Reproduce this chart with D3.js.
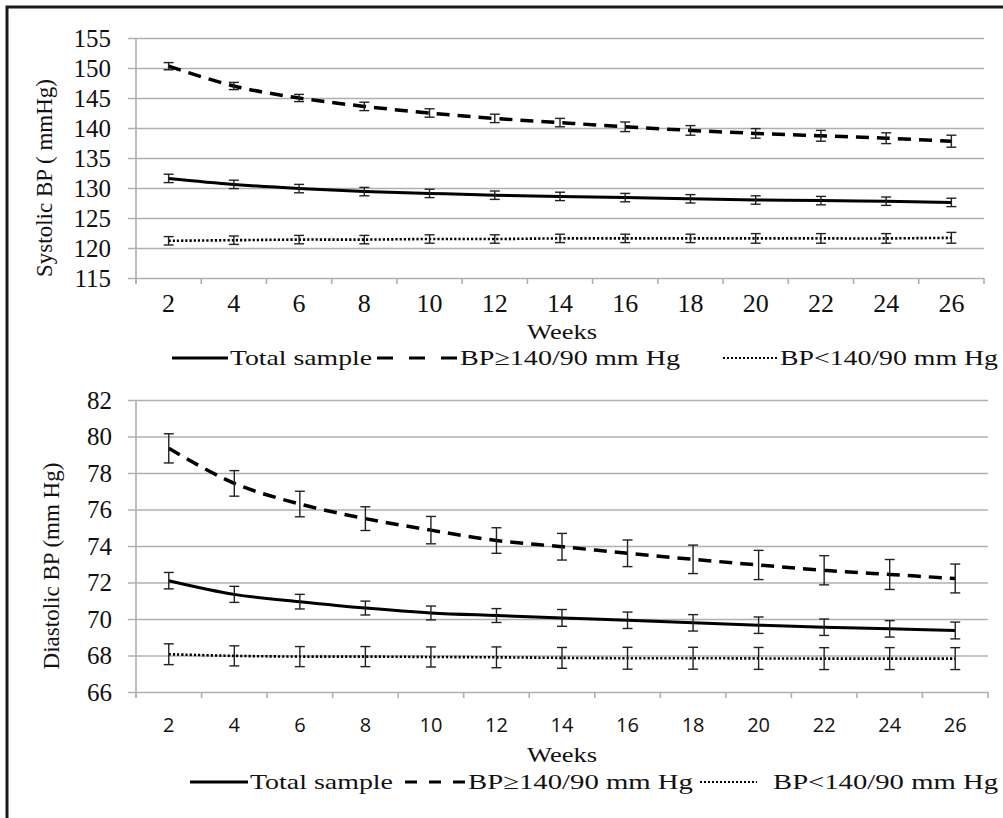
<!DOCTYPE html>
<html>
<head>
<meta charset="utf-8">
<script src="https://cdn.jsdelivr.net/npm/d3@7"></script>
<style>
  body { margin: 0; background: #fff; }
  svg { display: block; }
  text { fill: #111; }
</style>
</head>
<body>
<svg id="chart" width="1003" height="818"></svg>
<script>
// ---- data ----
const weeks = [2, 4, 6, 8, 10, 12, 14, 16, 18, 20, 22, 24, 26];

const sysTotal = [131.6, 130.6, 129.9, 129.4, 129.1, 128.8, 128.6, 128.4, 128.2, 128.0, 127.9, 127.8, 127.6];
const sysTotalErr = [0.7, 0.7, 0.7, 0.7, 0.7, 0.7, 0.7, 0.7, 0.7, 0.7, 0.7, 0.7, 0.7];
const sysHigh = [150.3, 147.0, 145.0, 143.6, 142.5, 141.6, 140.9, 140.2, 139.6, 139.1, 138.7, 138.3, 137.8];
const sysHighErr = [0.6, 0.6, 0.6, 0.7, 0.7, 0.7, 0.7, 0.8, 0.8, 0.8, 0.9, 0.9, 1.0];
const sysLow = [121.2, 121.3, 121.4, 121.4, 121.5, 121.5, 121.6, 121.6, 121.6, 121.6, 121.6, 121.6, 121.7];
const sysLowErr = [0.7, 0.7, 0.7, 0.7, 0.7, 0.7, 0.7, 0.7, 0.7, 0.8, 0.8, 0.8, 0.9];

const diaTotal = [72.1, 71.35, 70.95, 70.6, 70.33, 70.19, 70.06, 69.93, 69.79, 69.66, 69.55, 69.46, 69.37];
const diaTotalErr = [0.45, 0.44, 0.4, 0.38, 0.38, 0.38, 0.46, 0.45, 0.45, 0.45, 0.45, 0.45, 0.46];
const diaHigh = [79.35, 77.43, 76.3, 75.5, 74.87, 74.3, 73.96, 73.6, 73.27, 72.96, 72.67, 72.44, 72.22];
const diaHighErr = [0.8, 0.7, 0.7, 0.65, 0.75, 0.7, 0.73, 0.73, 0.78, 0.8, 0.8, 0.82, 0.79];
const diaLow = [68.07, 67.98, 67.94, 67.94, 67.92, 67.9, 67.87, 67.85, 67.85, 67.84, 67.83, 67.83, 67.83];
const diaLowErr = [0.57, 0.55, 0.55, 0.55, 0.55, 0.57, 0.57, 0.6, 0.6, 0.6, 0.6, 0.6, 0.6];

const sysTicks = [115, 120, 125, 130, 135, 140, 145, 150, 155];
const diaTicks = [66, 68, 70, 72, 74, 76, 78, 80, 82];

const legendLabels = ['Total sample', 'BP\u2265140/90  mm Hg', 'BP<140/90 mm Hg'];

const serif = '"Liberation Serif", "Times New Roman", serif';
const sans = '"Open Sans", "Liberation Sans", sans-serif';

const svg = d3.select('#chart');
svg.append('rect').attr('width', 1003).attr('height', 818).attr('fill', '#fff');

// outer frame (left and top only)
svg.append('path')
  .attr('d', 'M7,818 L7,7 L1003,7')
  .attr('fill', 'none')
  .attr('stroke', '#1c1c1c')
  .attr('stroke-width', 3);

const styles = [
  { dash: null, width: 3 },
  { dash: '13,8', width: 3.5 },
  { dash: '2.2,2', width: 2.6 }
];

function drawPanel(cfg) {
  const x = d3.scaleBand().domain(weeks).range([cfg.left, cfg.right]).paddingInner(0).paddingOuter(0);
  const y = d3.scaleLinear().domain(cfg.domain).range([cfg.bottom, cfg.top]);
  const cx = w => x(w) + x.bandwidth() / 2;
  const g = svg.append('g');

  // gridlines via d3 axis
  const yAxis = g.append('g')
    .attr('transform', `translate(${cfg.left},0)`)
    .call(d3.axisLeft(y).tickValues(cfg.ticks).tickSizeInner(-(cfg.right - cfg.left)).tickSizeOuter(0).tickFormat(''));
  yAxis.select('.domain').remove();
  yAxis.selectAll('.tick line')
    .attr('x1', -8)
    .attr('stroke', '#b0b0b0')
    .attr('stroke-width', 1.6);

  // vertical axis line
  g.append('line')
    .attr('x1', cfg.left).attr('x2', cfg.left)
    .attr('y1', y(cfg.domain[1])).attr('y2', cfg.bottom + 6)
    .attr('stroke', '#b0b0b0').attr('stroke-width', 1.6);

  // category boundary ticks
  const bounds = weeks.map(w => x(w)).concat([cfg.right]);
  g.selectAll('.btick').data(bounds).join('line')
    .attr('x1', d => d).attr('x2', d => d)
    .attr('y1', cfg.bottom).attr('y2', cfg.bottom + 6)
    .attr('stroke', '#b0b0b0').attr('stroke-width', 1.6);

  // y tick labels
  g.selectAll('.ylab').data(cfg.ticks).join('text')
    .attr('x', cfg.labelRight)
    .attr('y', d => y(d))
    .attr('dy', '0.34em')
    .attr('text-anchor', 'end')
    .style('font-family', serif)
    .style('font-size', cfg.yFont + 'px')
    .text(d => d);

  // x tick labels
  g.selectAll('.xlab').data(weeks).join('text')
    .attr('x', d => cx(d))
    .attr('y', cfg.xLabelY)
    .attr('text-anchor', 'middle')
    .style('font-family', cfg.xFontFamily)
    .style('font-size', cfg.xFont + 'px')
    .text(d => d);

  // y axis title
  g.append('text')
    .attr('transform', `translate(${cfg.titleX},${cfg.titleY}) rotate(-90)`)
    .attr('text-anchor', 'middle')
    .attr('dy', '0.35em')
    .style('font-family', serif)
    .style('font-size', '23px')
    .text(cfg.title);

  // x axis title
  g.append('text')
    .attr('x', 562).attr('y', cfg.weeksY)
    .attr('text-anchor', 'middle')
    .attr('textLength', 70).attr('lengthAdjust', 'spacingAndGlyphs')
    .style('font-family', serif)
    .style('font-size', '20px')
    .text('Weeks');

  // series
  const line = d3.line().x((d, i) => cx(weeks[i])).y(d => y(d)).curve(d3.curveCatmullRom.alpha(0.5));
  cfg.series.forEach((s, k) => {
    const st = styles[k];
    g.append('path')
      .attr('d', line(s.values))
      .attr('fill', 'none')
      .attr('stroke', '#000')
      .attr('stroke-width', st.width)
      .attr('stroke-dasharray', st.dash);

    const eb = g.append('g');
    s.values.forEach((v, i) => {
      const px = cx(weeks[i]);
      const y1 = y(v + s.err[i]), y2 = y(v - s.err[i]);
      eb.append('line').attr('x1', px).attr('x2', px).attr('y1', y1).attr('y2', y2);
      eb.append('line').attr('x1', px - 5).attr('x2', px + 5).attr('y1', y1).attr('y2', y1);
      eb.append('line').attr('x1', px - 5).attr('x2', px + 5).attr('y1', y2).attr('y2', y2);
    });
    eb.selectAll('line').attr('stroke', '#222').attr('stroke-width', 1.4);
  });

  // legend
  const lg = g.append('g');
  const ly = cfg.legendY;
  cfg.legend.forEach((it, k) => {
    const span = it.l1 - it.l0;
    const d = span / 5;
    lg.append('line')
      .attr('x1', it.l0).attr('x2', it.l1)
      .attr('y1', ly - 7).attr('y2', ly - 7)
      .attr('stroke', '#000')
      .attr('stroke-width', k === 2 ? 2 : 3)
      .attr('stroke-dasharray', k === 1 ? `${d},${d}` : (k === 2 ? '2,2' : null));
    lg.append('text')
      .attr('x', it.t0).attr('y', ly)
      .attr('textLength', it.tw).attr('lengthAdjust', 'spacingAndGlyphs')
      .style('font-family', serif)
      .style('font-size', '22px')
      .text(legendLabels[k]);
  });
}

drawPanel({
  left: 136, right: 984, top: 38, bottom: 278,
  domain: [115, 155], ticks: sysTicks,
  labelRight: 111, yFont: 25,
  xLabelY: 312, xFont: 26, xFontFamily: serif,
  title: 'Systolic  BP ( mmHg)', titleX: 44, titleY: 178,
  weeksY: 339, legendY: 365,
  series: [
    { values: sysTotal, err: sysTotalErr },
    { values: sysHigh, err: sysHighErr },
    { values: sysLow, err: sysLowErr }
  ],
  legend: [
    { l0: 172, l1: 228, t0: 230, tw: 142 },
    { l0: 377, l1: 457, t0: 460, tw: 220 },
    { l0: 723, l1: 777, t0: 780, tw: 218 }
  ]
});

drawPanel({
  left: 136, right: 988, top: 400, bottom: 692,
  domain: [66, 82], ticks: diaTicks,
  labelRight: 112, yFont: 25,
  xLabelY: 732, xFont: 20, xFontFamily: sans,
  title: 'Diastolic  BP (mm Hg)', titleX: 51, titleY: 566,
  weeksY: 762, legendY: 789,
  series: [
    { values: diaTotal, err: diaTotalErr },
    { values: diaHigh, err: diaHighErr },
    { values: diaLow, err: diaLowErr }
  ],
  legend: [
    { l0: 190, l1: 248, t0: 250, tw: 143 },
    { l0: 405, l1: 465, t0: 468, tw: 225 },
    { l0: 700, l1: 757, t0: 773, tw: 225 }
  ]
});
</script>
</body>
</html>
